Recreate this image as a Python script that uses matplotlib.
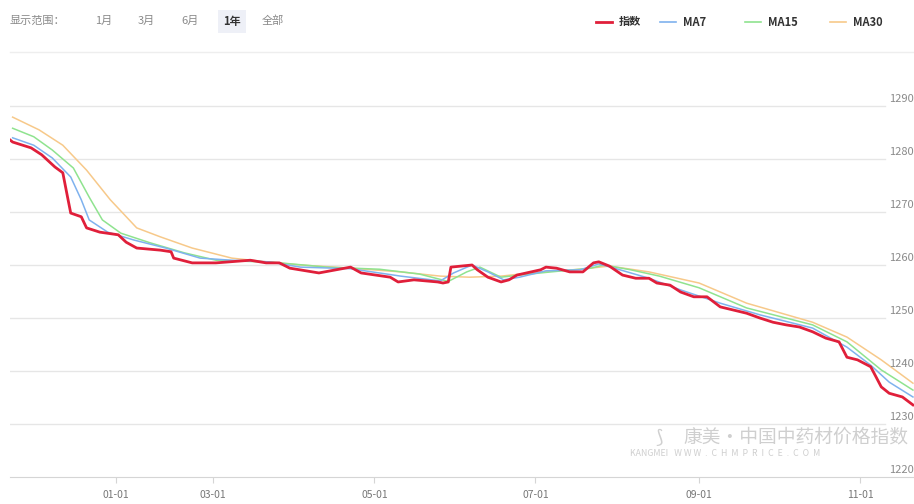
import matplotlib
matplotlib.use("Agg")
import matplotlib.pyplot as plt

plt.rcParams['font.family'] = ['Noto Sans CJK SC', 'DejaVu Sans']

# day index (one point per published day) and values
idx_days = [0, 1, 8, 12, 17, 20, 22, 23, 27, 29, 34, 41, 44, 48, 57, 61, 62, 69, 78, 91,
            97, 102, 106, 117, 129, 133, 144, 147, 153, 162, 164, 166, 167, 175, 177, 181,
            186, 189, 192, 201, 203, 207, 212, 217, 221, 223, 227, 232, 237, 242, 245, 250,
            254, 259, 264, 269, 274, 279, 284, 289, 294, 299, 304, 309, 314, 317, 321, 326,
            330, 333, 338, 342]
idx_vals = [1283.6, 1283.2, 1282.1, 1280.8, 1278.5, 1277.4, 1272.3, 1269.8, 1269.1, 1267.0,
            1266.2, 1265.7, 1264.3, 1263.2, 1262.8, 1262.5, 1261.3, 1260.4, 1260.4, 1260.9,
            1260.4, 1260.4, 1259.4, 1258.5, 1259.6, 1258.5, 1257.7, 1256.8, 1257.2, 1256.8,
            1256.6, 1256.8, 1259.6, 1260.0, 1259.1, 1257.7, 1256.8, 1257.2, 1258.1, 1259.1,
            1259.6, 1259.4, 1258.7, 1258.7, 1260.4, 1260.6, 1259.8, 1258.1, 1257.5, 1257.5,
            1256.6, 1256.2, 1254.9, 1254.0, 1254.0, 1252.1, 1251.5, 1250.9, 1250.0, 1249.2,
            1248.7, 1248.3, 1247.4, 1246.2, 1245.5, 1242.6, 1242.1, 1240.8, 1237.0, 1235.8,
            1235.1, 1233.6]

ma7_days = [1, 9, 16, 23, 27, 30, 37, 47, 59, 72, 84, 98, 110, 129, 148, 163, 168, 175,
            181, 187, 193, 203, 216, 223, 231, 242, 254, 269, 284, 304, 317, 326, 333, 342]
ma7_vals = [1284.0, 1282.6, 1280.2, 1276.6, 1272.3, 1268.5, 1266.2, 1264.7, 1263.2, 1261.3,
            1260.9, 1260.6, 1259.6, 1259.3, 1257.9, 1257.0, 1258.5, 1260.0, 1258.7, 1257.2,
            1257.7, 1258.9, 1259.1, 1260.2, 1259.1, 1257.5, 1255.3, 1252.8, 1250.6, 1248.1,
            1244.5, 1241.1, 1237.9, 1235.1]

ma15_days = [1, 9, 16, 24, 30, 35, 42, 53, 66, 78, 100, 120, 140, 155, 166, 173, 178, 186,
             193, 205, 220, 225, 235, 246, 261, 279, 304, 317, 330, 342]
ma15_vals = [1285.8, 1284.2, 1281.7, 1278.3, 1272.8, 1268.5, 1266.0, 1264.2, 1262.3, 1260.9,
             1260.5, 1259.6, 1259.2, 1258.3, 1256.9, 1258.7, 1259.6, 1257.7, 1258.1, 1258.7,
             1259.4, 1260.0, 1259.1, 1257.9, 1255.7, 1251.9, 1248.7, 1245.5, 1240.2, 1236.4]

ma30_days = [1, 11, 20, 29, 38, 48, 57, 69, 84, 97, 110, 129, 148, 163, 174, 186, 201, 216,
             227, 242, 261, 279, 304, 317, 330, 342]
ma30_vals = [1287.9, 1285.5, 1282.6, 1277.9, 1272.3, 1267.0, 1265.3, 1263.2, 1261.3, 1260.6,
             1260.0, 1259.4, 1258.7, 1257.9, 1257.7, 1257.9, 1258.7, 1259.2, 1259.8, 1258.7,
             1256.6, 1252.8, 1249.2, 1246.4, 1242.1, 1237.7]

tick_days = [40, 77, 138, 199, 261, 322]
tick_labels = ['01-01', '03-01', '05-01', '07-01', '09-01', '11-01']
y_grid = [1220, 1230, 1240, 1250, 1260, 1270, 1280, 1290]

W, H = 914, 504
fig = plt.figure(figsize=(W / 100, H / 100), dpi=100)
ax = fig.add_axes([10 / W, 27 / H, 904 / W, 424 / H])
ax.set_xlim(0, 342.4)
ax.set_ylim(1220, 1300)

for g in y_grid:
    if g > 1220:
        ax.axhline(g, xmin=0, xmax=0.968, color='#e6e6e6', lw=1, zorder=0)
    ax.annotate(str(g), xy=(889 / W, g), xycoords=('figure fraction', 'data'),
                xytext=(0, 1.5), textcoords='offset points', fontsize=8,
                color='#8a8a8a', va='bottom', ha='left', annotation_clip=False)

# separator under toolbar
fig.add_artist(plt.Line2D([10 / W, 1], [1 - 52 / H, 1 - 52 / H], color='#eeeeee', lw=1))

ax.plot(ma30_days, ma30_vals, color='#f7c98a', lw=1.1, zorder=2)
ax.plot(ma15_days, ma15_vals, color='#8fe38f', lw=1.1, zorder=3)
ax.plot(ma7_days, ma7_vals, color='#7fb2ee', lw=1.1, zorder=4)
ax.plot(idx_days, idx_vals, color='#e01f3a', lw=2, zorder=5)

for s in ['top', 'right', 'left']:
    ax.spines[s].set_visible(False)
ax.spines['bottom'].set_color('#d5d5d5')
ax.set_yticks([])
ax.set_xticks(tick_days)
ax.set_xticklabels(tick_labels, fontsize=7.5, color='#777777')
ax.tick_params(axis='x', length=4, color='#d5d5d5', pad=5)

# watermark
fig.text(655 / W, 1 - 437 / H, '⟆', fontsize=14, color='#d0d0d0', va='center', ha='left',
         family=['DejaVu Sans'])
fig.text(683 / W, 1 - 437 / H, '康美·中国中药材价格指数', fontsize=13.5, color='#cfcfcf',
         va='center', ha='left')
fig.text(630 / W, 1 - 453 / H, 'KANGMEI   W W W  .  C  H  M  P  R  I  C  E  .  C  O  M',
         fontsize=6.3, color='#cfcfcf', va='center', ha='left')

# toolbar
fig.text(10 / W, 1 - 21 / H, '显示范围：', fontsize=8, color='#8a8a8a', va='center')
for lab, xp in [('1月', 95), ('3月', 138), ('6月', 181), ('全部', 262)]:
    fig.text(xp / W, 1 - 21 / H, lab, fontsize=8, color='#8a8a8a', va='center')
fig.text(223 / W, 1 - 21 / H, '1年', fontsize=8, color='#333333', va='center', weight='bold',
         bbox=dict(boxstyle='square,pad=0.45', fc='#eef0f7', ec='none'))

# legend
for col, x0, lab, lw in [('#e01f3a', 596, '指数', 2), ('#7fb2ee', 660, 'MA7', 1.2),
                         ('#8fe38f', 745, 'MA15', 1.2), ('#f7c98a', 830, 'MA30', 1.2)]:
    fig.add_artist(plt.Line2D([x0 / W, (x0 + 16) / W], [1 - 22 / H, 1 - 22 / H], color=col, lw=lw))
    fig.text((x0 + 23) / W, 1 - 22 / H, lab, fontsize=8, color='#333333', va='center',
             weight='bold')

fig.savefig('out.png', dpi=100)
